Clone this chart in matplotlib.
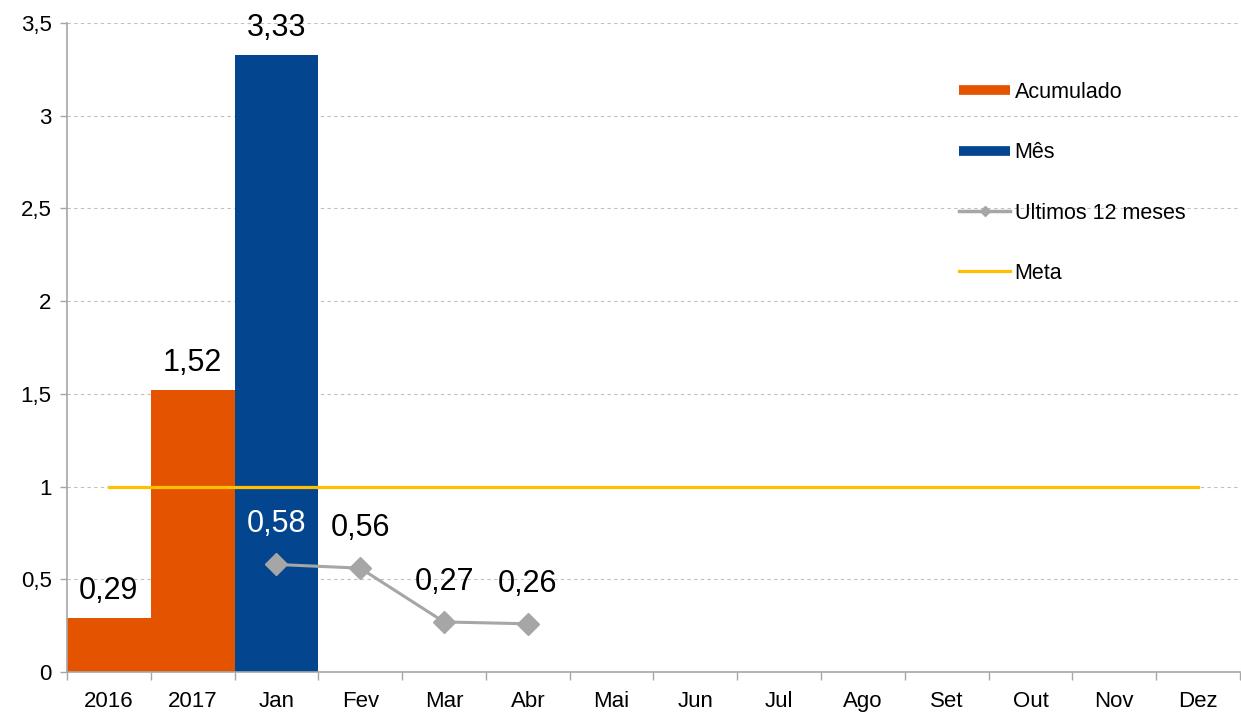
import matplotlib
matplotlib.use("Agg")
import matplotlib.pyplot as plt
from matplotlib.lines import Line2D
import numpy as np

plt.rcParams['font.family'] = ['Liberation Sans', 'DejaVu Sans']

categories = ["2016", "2017", "Jan", "Fev", "Mar", "Abr", "Mai", "Jun", "Jul", "Ago", "Set", "Out", "Nov", "Dez"]
acumulado_cats = ["2016", "2017"]
acumulado_vals = [0.29, 1.52]
mes_cats = ["Jan"]
mes_vals = [3.33]
ult12_cats = ["Jan", "Fev", "Mar", "Abr"]
ult12_vals = [0.58, 0.56, 0.27, 0.26]
meta_val = 1.0
yticks = [0, 0.5, 1, 1.5, 2, 2.5, 3, 3.5]

c_orange = '#E35300'
c_blue = '#03468F'
c_grey = '#A6A6A6'
c_meta = '#FFC000'

def fmt(v):
    return ('%g' % v).replace('.', ',')

def fmt2(v):
    return ('%.2f' % v).replace('.', ',')

idx = {c: i for i, c in enumerate(categories)}

fig = plt.figure(figsize=(12.41, 7.17), dpi=100)
ax = fig.add_axes([67/1241, 1-672/717, (1240-67)/1241, (672-23)/717])

ax.set_xlim(-0.5, len(categories) - 0.5)
ax.set_ylim(0, 3.5)

ax.set_yticks(yticks)
ax.set_yticklabels([fmt(v) for v in yticks], fontsize=16)
ax.yaxis.grid(True, linestyle=(0, (3, 3)), color='#BFBFBF', linewidth=0.8)
ax.set_axisbelow(True)

xa = [idx[c] for c in acumulado_cats]
xm = [idx[c] for c in mes_cats]
xu = [idx[c] for c in ult12_cats]

ax.bar(xa, acumulado_vals, width=1.0, color=c_orange, zorder=2)
ax.bar(xm, mes_vals, width=1.0, color=c_blue, zorder=2)

ax.plot([0, len(categories) - 1], [meta_val, meta_val], color=c_meta, lw=2.3, zorder=3)
ax.plot(xu, ult12_vals, color=c_grey, lw=2.2, marker='D', markersize=11, zorder=4)

for x, v in zip(xa, acumulado_vals):
    ax.annotate(fmt2(v), (x, v), xytext=(0, 9), textcoords='offset points',
                ha='center', va='bottom', fontsize=22, color='black', zorder=5)
for x, v in zip(xm, mes_vals):
    ax.annotate(fmt2(v), (x, v), xytext=(0, 8), textcoords='offset points',
                ha='center', va='bottom', fontsize=22, color='black', zorder=5)
for x, v in zip(xu, ult12_vals):
    col = 'white' if x in xm else 'black'
    ax.annotate(fmt2(v), (x, v), xytext=(0, 18), textcoords='offset points',
                ha='center', va='bottom', fontsize=22, color=col, zorder=5)

ax.set_xticks(range(len(categories)))
ax.set_xticklabels(categories, fontsize=16)
ax.set_xticks(np.arange(-0.5, len(categories), 1.0), minor=True)
ax.tick_params(axis='x', which='major', length=0, pad=14)
ax.tick_params(axis='x', which='minor', length=6, color='#A6A6A6', width=1)
ax.tick_params(axis='y', length=5, color='#A6A6A6', width=1, pad=6)

for s in ['top', 'right']:
    ax.spines[s].set_visible(False)
for s in ['left', 'bottom']:
    ax.spines[s].set_color('#A6A6A6')
    ax.spines[s].set_linewidth(1.2)

handles = [
    Line2D([], [], color=c_orange, lw=7, solid_capstyle='butt'),
    Line2D([], [], color=c_blue, lw=7, solid_capstyle='butt'),
    Line2D([], [], color=c_grey, lw=2.5, marker='D', markersize=5),
    Line2D([], [], color=c_meta, lw=2.3),
]
labels = ["Acumulado", "Mês", "Ultimos 12 meses", "Meta"]
leg = ax.legend(handles, labels, loc='upper left', bbox_to_anchor=(948/1241, 1-71/717),
                bbox_transform=fig.transFigure, frameon=False, fontsize=15.5,
                labelspacing=1.83, handlelength=2.4, handletextpad=0.2, borderpad=0)

fig.savefig('out.png', dpi=100, facecolor='white')
